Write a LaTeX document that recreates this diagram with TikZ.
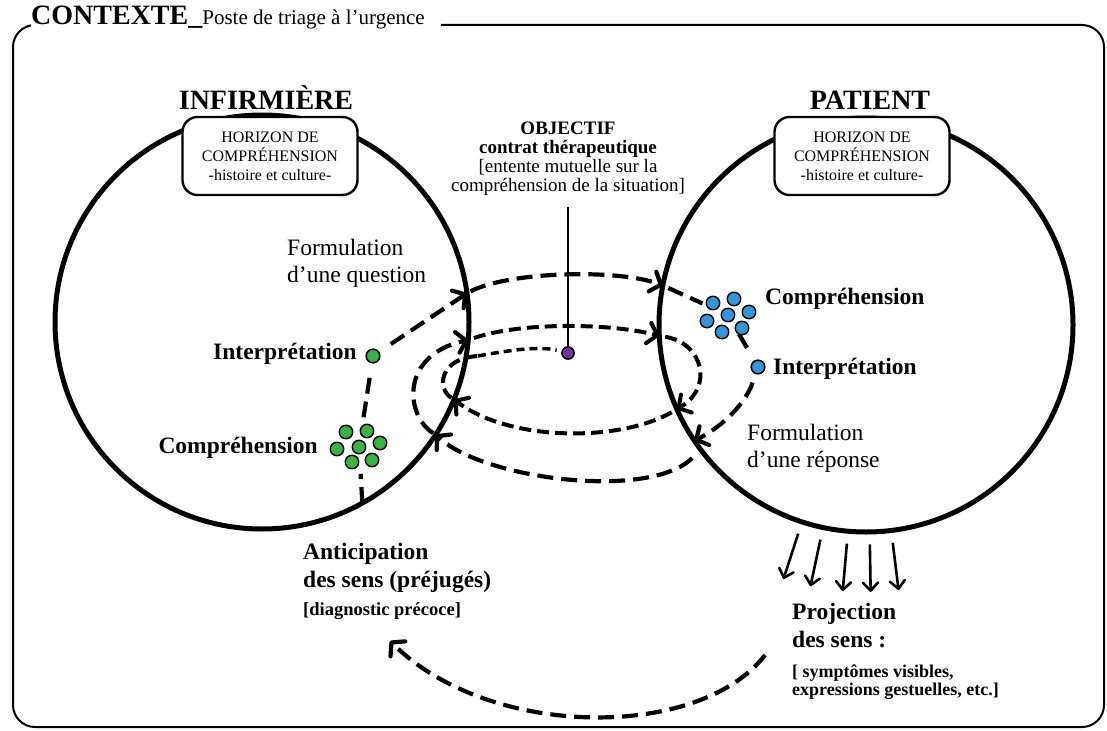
\documentclass[tikz,border=0pt]{standalone}
\usepackage{fontspec}
\setmainfont{Liberation Serif}
\usetikzlibrary{arrows.meta,calc}

\definecolor{dotgreen}{RGB}{58,178,72}
\definecolor{dotblue}{RGB}{52,150,218}
\definecolor{dotpurple}{RGB}{118,52,160}

\newcommand{\setfs}[2]{\fontsize{#1}{#2}\selectfont}

\begin{document}
\begin{tikzpicture}[x=1pt,y=-1pt,
  ring/.style={circle, draw, line width=5pt, minimum size=414pt, inner sep=0pt, outer sep=0pt},
  horizon/.style={draw, line width=2.4pt, rounded corners=15pt, fill=white,
    minimum width=175pt, minimum height=78pt, align=center, inner sep=2pt,
    font=\setfs{16}{19}},
  head/.style={font=\bfseries\setfs{28}{32}, inner sep=0pt},
  lbl/.style={font=\bfseries\setfs{23.5}{28}, inner sep=0pt},
  txt/.style={font=\setfs{23.5}{27}, inner sep=0pt},
  flow/.style={line width=4.2pt, dash pattern=on 16pt off 8pt},
  inflow/.style={line width=4pt, dash pattern=on 12pt off 6pt},
  fine/.style={line width=3.5pt, dash pattern=on 8pt off 5pt},
  barbtip/.style={-{Straight Barb[length=9pt,width=21pt,round]}},
  projarrow/.style={line width=2.6pt, -{Straight Barb[length=8pt,width=15pt,round]}},
  gdot/.style={circle, draw, line width=1.4pt, fill=dotgreen, minimum size=13.5pt, inner sep=0pt},
  bdot/.style={circle, draw, line width=1.4pt, fill=dotblue, minimum size=13.5pt, inner sep=0pt},
  pdot/.style={circle, draw, line width=1.4pt, fill=dotpurple, minimum size=12pt, inner sep=0pt}]

\useasboundingbox (0,0) rectangle (1107,730);

% context frame and its title
\draw[line width=2pt, rounded corners=22pt] (13,25) rectangle (1104,727);
\node[anchor=base west, fill=white, inner xsep=0pt, inner ysep=7pt] (ctx) at (31,25)
  {\bfseries\setfs{28}{32}CONTEXTE\_\mdseries\setfs{21}{25}Poste de triage à l’urgence\hspace*{16pt}};

% the two horizons
\node[ring] (L) at (262,322) {};
\node[ring] (R) at (866,325) {};

\node[head, anchor=base] (nurse) at (266,110) {INFIRMIÈRE};
\node[head, anchor=base] (patient) at (870,110) {PATIENT};

\node[horizon] (hl) at (270,156) {HORIZON DE\\COMPRÉHENSION\\-histoire et culture-};
\node[horizon] (hr) at (862,156) {HORIZON DE\\COMPRÉHENSION\\-histoire et culture-};

% objective of the exchange
\node[anchor=base, inner sep=3pt] (obj) at (568,135)
  {\setfs{19}{18.5}\begin{tabular}[t]{@{}c@{}}\bfseries OBJECTIF\\ \bfseries contrat thérapeutique\\ {[}entente mutuelle sur la\\ compréhension de la situation]\end{tabular}};
\node[pdot] (pd) at (568,353) {};
\draw[line width=2pt, shorten <=7pt] (obj.south) -- (pd.north);

% nurse side labels
\node[txt, anchor=base west] (fq) at (287,255)
  {\begin{tabular}[t]{@{}l@{}}Formulation\\ d’une question\end{tabular}};
\node[lbl, anchor=base east] (il) at (357,359) {Interprétation};
\node[lbl, anchor=base east] (cl) at (318,453) {Compréhension};
\node[lbl, anchor=base west] (ant) at (303,559)
  {\begin{tabular}[t]{@{}l@{}}Anticipation\\ des sens (préjugés)\\ \setfs{18.5}{22}{[}diagnostic précoce]\end{tabular}};

% patient side labels
\node[lbl, anchor=base west] (cr) at (765,304) {Compréhension};
\node[lbl, anchor=base west] (ir) at (773,374) {Interprétation};
\node[txt, anchor=base west] (fr) at (747,440)
  {\begin{tabular}[t]{@{}l@{}}Formulation\\ d’une réponse\end{tabular}};
\node[lbl, anchor=base west] (proj) at (792,619)
  {\begin{tabular}[t]{@{}l@{}}Projection\\ des sens :\end{tabular}};
\node[anchor=base west, inner sep=0pt, font=\bfseries\setfs{18}{18}] (projx) at (792,677)
  {\begin{tabular}[t]{@{}l@{}}{[} symptômes visibles,\\ expressions gestuelles, etc.]\end{tabular}};

% anchor points of the loops
\coordinate (gc) at (359,447);
\coordinate (bc) at (728,315);
\coordinate (ip) at (478,356);
\coordinate (pstart) at (765,655);
\coordinate (aend) at (390,641);
\node[gdot] (gi) at (373,356) {};
\node[bdot] (bi) at (758,367) {};

% nurse: anticipation -> comprehension -> interpretation -> question
\draw[flow, shorten >=27pt] (L.-61) -- (gc);
\draw[flow, shorten <=30pt, shorten >=9pt] (gc) -- (gi);
\draw[flow, barbtip, shorten <=14pt] (gi) -- (L.8);
% the question reaches the patient
\draw[flow, barbtip, shorten <=4pt] (L.8) .. controls (510,271) and (620,269) .. (R.169);
\draw[flow, shorten <=6pt, shorten >=28pt] (R.169) -- (bc);
\draw[flow, shorten <=22pt, shorten >=9pt] (bc) -- (bi);
\draw[flow, barbtip, shorten <=9pt] (bi) .. controls (746,402) and (725,425) .. (R.214);
% the answer returns to the nurse
\draw[flow, barbtip, shorten <=12pt] (R.217) .. controls (650,500) and (485,480) .. (L.-33.5);
\draw[flow, barbtip, shorten <=3pt] (L.-33.5) .. controls (405,415) and (400,355) .. (L.-5);
% inner exchange converging on the objective
\draw[inflow, barbtip, shorten <=6pt] (L.-5) .. controls (520,322) and (610,323) .. (R.183);
\draw[inflow, barbtip, shorten <=6pt] (R.183) .. controls (703,343) and (714,387) .. (R.204);
\draw[inflow, barbtip, shorten <=6pt] (R.204) .. controls (620,442) and (510,442) .. (L.-22);
\draw[inflow, shorten <=3pt] (L.-22) .. controls (436,388) and (440,358) .. (ip);
\draw[fine, shorten >=5pt] (ip) .. controls (510,350) and (540,346) .. (pd);

% meaning projected by the patient, read back by the nurse
\foreach \a in {252,258.5,265,271,277.5}
  \draw[projarrow] ($(R.center)!1.06!(R.\a)$) -- ($(R.center)!1.29!(R.\a)$);
\draw[flow, barbtip] (pstart) .. controls (700,740) and (490,740) .. (aend);

% comprehension clusters
\foreach \p in {(346,432),(367,431),(380,443),(359,447),(337,449),(352,462),(372,460)}
  \node[gdot] at \p {};
\foreach \p in {(713,303),(734,299),(749,312),(728,315),(707,321),(722,332),(742,328)}
  \node[bdot] at \p {};
\node[gdot] at (gi) {};
\node[bdot] at (bi) {};
\node[pdot] at (pd) {};

\end{tikzpicture}
\end{document}
